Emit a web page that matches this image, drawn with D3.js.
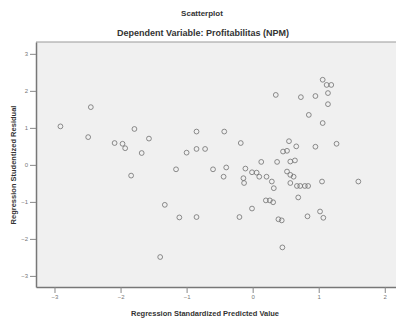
<!DOCTYPE html>
<html>
<head>
<meta charset="utf-8">
<script src="https://cdn.jsdelivr.net/npm/d3@7"></script>
<style>
  body { margin: 0; background: #fff; }
  svg { display: block; font-family: "Liberation Sans", Arial, sans-serif; }
</style>
</head>
<body>
<div id="chart"></div>
<script>
// standardized predicted value (x) vs studentized residual (y)
const predicted = [
  -2.91, -2.45, -2.49, -1.79, -1.57, -2.09, -1.97, -1.93, -1.68, -0.85,
  -0.85, -0.72, -1.00, -1.16, -1.84, -1.33, -1.11, -0.85, -1.40, -0.43,
  -0.18, 0.55, 0.66, 0.46, 0.52, 0.95, 1.27, 0.13, 0.37, 0.57,
  0.64, -0.60, -0.40, -0.44, -0.11, -0.01, 0.06, 0.10, -0.14, -0.13,
  0.21, 0.29, 0.32, 0.52, 0.57, 0.62, 0.57, 0.67, 0.72, 0.79,
  0.84, 1.05, 1.60, 0.69, 0.20, 0.26, 0.31, -0.01, -0.20, 0.39,
  0.44, 0.83, 1.02, 1.07, 0.45, 1.06, 1.12, 1.19, 0.35, 0.73,
  0.95, 1.14, 1.14, 0.85, 1.06
];
const residual = [
  1.04, 1.56, 0.75, 0.97, 0.71, 0.59, 0.57, 0.45, 0.32, 0.90,
  0.43, 0.43, 0.33, -0.12, -0.29, -1.08, -1.42, -1.41, -2.49, 0.90,
  0.59, 0.64, 0.50, 0.36, 0.38, 0.49, 0.57, 0.08, 0.08, 0.09,
  0.12, -0.12, -0.07, -0.32, -0.10, -0.20, -0.21, -0.32, -0.36, -0.49,
  -0.32, -0.45, -0.63, -0.18, -0.27, -0.32, -0.49, -0.57, -0.57, -0.57,
  -0.57, -0.45, -0.45, -0.88, -0.96, -0.96, -1.01, -1.18, -1.41, -1.47,
  -1.50, -1.39, -1.26, -1.43, -2.23, 2.30, 2.16, 2.16, 1.89, 1.83,
  1.86, 1.94, 1.64, 1.35, 1.13
];
const xTicks = [-3, -2, -1, 0, 1, 2];
const yTicks = [-3, -2, -1, 0, 1, 2, 3];

const width = 396, height = 320;
const margin = { top: 42, right: 0, bottom: 33, left: 36 };

const svg = d3.select('#chart').append('svg')
  .attr('width', width)
  .attr('height', height);

const x = d3.scaleLinear().domain([-3.28, 2.17]).range([margin.left, width - margin.right]);
const y = d3.scaleLinear().domain([-3.30, 3.32]).range([height - margin.bottom, margin.top]);

// plot background
svg.append('rect')
  .attr('x', margin.left).attr('y', margin.top)
  .attr('width', width - margin.left - margin.right)
  .attr('height', height - margin.top - margin.bottom)
  .attr('fill', '#f0f0f0');

svg.append('line')
  .attr('x1', margin.left).attr('x2', width)
  .attr('y1', margin.top).attr('y2', margin.top)
  .attr('stroke', '#999').attr('stroke-width', 1);

const xAxis = svg.append('g')
  .attr('transform', 'translate(0,' + (height - margin.bottom) + ')')
  .call(d3.axisBottom(x).tickValues(xTicks).tickFormat(d3.format('d'))
    .tickSize(6).tickPadding(2).tickSizeOuter(0));

const yAxis = svg.append('g')
  .attr('transform', 'translate(' + margin.left + ',0)')
  .call(d3.axisLeft(y).tickValues(yTicks).tickFormat(d3.format('d'))
    .tickSize(6).tickPadding(2).tickSizeOuter(0));

[xAxis, yAxis].forEach(g => {
  g.select('.domain').attr('stroke', '#777').attr('stroke-width', 1.5);
  g.selectAll('.tick line').attr('stroke', '#888');
  g.selectAll('.tick text').attr('fill', '#777').style('font-size', '6px');
});

svg.append('g')
  .selectAll('circle')
  .data(predicted.map((v, i) => [v, residual[i]]))
  .enter()
  .append('circle')
  .attr('cx', d => x(d[0]))
  .attr('cy', d => y(d[1]))
  .attr('r', 2.4)
  .attr('fill', 'none')
  .attr('stroke', '#707070')
  .attr('stroke-width', 0.8);

svg.append('text')
  .attr('x', 202).attr('y', 16)
  .attr('text-anchor', 'middle')
  .style('font-size', '8px').style('font-weight', 'bold').attr('fill', '#333')
  .text('Scatterplot');

svg.append('text')
  .attr('x', 203).attr('y', 36)
  .attr('text-anchor', 'middle')
  .style('font-size', '9px').style('font-weight', 'bold').attr('fill', '#333')
  .text('Dependent Variable: Profitabilitas (NPM)');

svg.append('text')
  .attr('x', 205).attr('y', 316)
  .attr('text-anchor', 'middle')
  .style('font-size', '7.5px').style('font-weight', 'bold').attr('fill', '#333')
  .text('Regression Standardized Predicted Value');

svg.append('text')
  .attr('transform', 'translate(16,165) rotate(-90)')
  .attr('text-anchor', 'middle')
  .style('font-size', '7.5px').style('font-weight', 'bold').attr('fill', '#333')
  .text('Regression Studentized Residual');
</script>
</body>
</html>
